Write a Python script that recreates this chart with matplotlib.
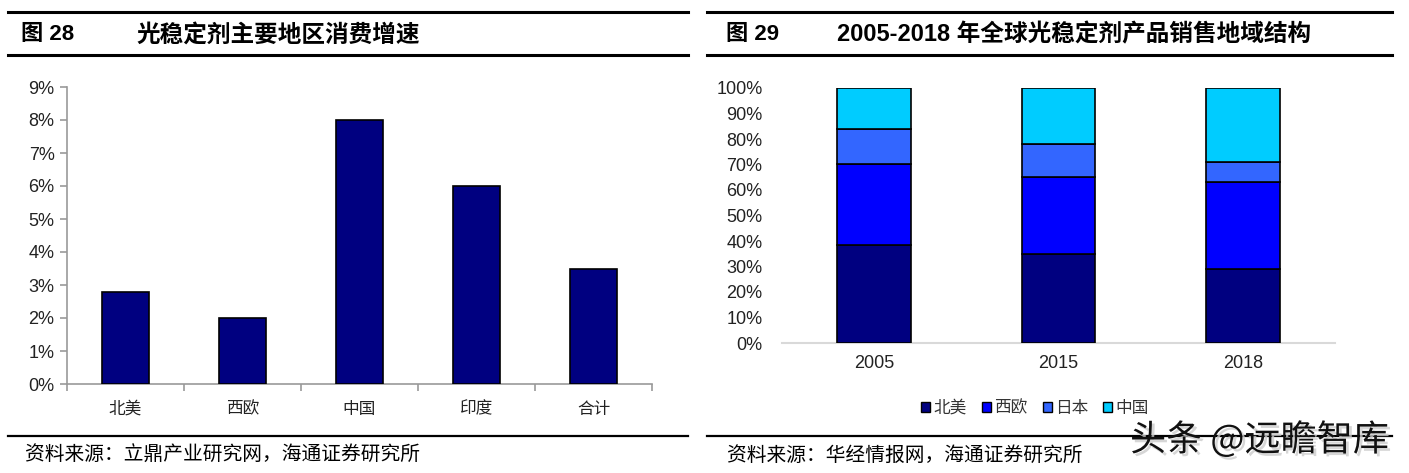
import matplotlib
matplotlib.use("Agg")
import matplotlib.pyplot as plt
import matplotlib.patheffects as pe
from matplotlib.patches import Patch
import numpy as np

plt.rcParams['font.family'] = ['Liberation Sans', 'Noto Sans CJK SC', 'DejaVu Sans']

# ---- data ----
regions = ['北美', '西欧', '中国', '印度', '合计']
growth = [2.8, 2.0, 8.0, 6.0, 3.5]          # %
left_yticks = [0, 1, 2, 3, 4, 5, 6, 7, 8, 9]

years = ['2005', '2015', '2018']
series_names = ['北美', '西欧', '日本', '中国']
na = [38.5, 35.0, 29.0]
we = [31.5, 30.0, 34.0]
jp = [14.0, 13.0, 8.0]
cn = [16.0, 22.0, 29.0]
right_yticks = [0, 10, 20, 30, 40, 50, 60, 70, 80, 90, 100]

W, H = 1409, 473
fig = plt.figure(figsize=(W / 100, H / 100), dpi=100)

def fx(x):
    return x / W

def fy(y):
    return 1 - y / H

cjk = ['Noto Sans CJK SC', 'DejaVu Sans']
title_font = ['Liberation Sans', 'Noto Sans CJK SC']

# ---- header / footer rules ----
for (x0, x1) in [(8, 688), (707, 1392)]:
    for y, lw in [(12, 2.2), (55, 2.2), (436, 1.6)]:
        fig.add_artist(plt.Line2D([fx(x0), fx(x1)], [fy(y), fy(y)], color='black', lw=lw))

fig.text(fx(21), fy(35), '图 28', family=title_font, fontsize=16, fontweight='bold', va='center')
fig.text(fx(136), fy(35), '光稳定剂主要地区消费增速', family=cjk, fontsize=17, fontweight='bold', va='center')
fig.text(fx(726), fy(35), '图 29', family=title_font, fontsize=16, fontweight='bold', va='center')
fig.text(fx(837), fy(35), '2005-2018 年全球光稳定剂产品销售地域结构', family=title_font, fontsize=17,
         fontweight='bold', va='center')

fig.text(fx(25), fy(455), '资料来源：立鼎产业研究网，海通证券研究所', family=cjk, fontsize=14.2, va='center')
fig.text(fx(727), fy(455), '资料来源：华经情报网，海通证券研究所', family=cjk, fontsize=14.2, va='center')

# ---- left chart ----
axL = fig.add_axes([fx(67), fy(384), fx(652) - fx(67), fy(87) - fy(384)])
xl = np.arange(len(regions))
axL.bar(xl, growth, width=0.41, color='#000080', edgecolor='black', linewidth=1.2, zorder=3)
axL.set_xlim(-0.5, len(regions) - 0.5)
axL.set_ylim(0, 9)
axL.set_yticks(left_yticks)
axL.set_yticklabels([f'{v}%' for v in left_yticks], fontsize=13, color='#222222')
axL.set_xticks(xl)
axL.set_xticklabels(regions, family=cjk, fontsize=12, color='#222222')
axL.set_xticks(np.arange(-0.5, len(regions), 1.0), minor=True)
axL.tick_params(axis='x', which='major', length=0, pad=12)
axL.tick_params(axis='x', which='minor', length=5, color='#999999', width=1.2)
axL.tick_params(axis='y', length=5, color='#999999', width=1.2, pad=4)
for s in ['top', 'right']:
    axL.spines[s].set_visible(False)
for s in ['left', 'bottom']:
    axL.spines[s].set_color('#999999')
    axL.spines[s].set_linewidth(1.2)

# ---- right chart ----
axR = fig.add_axes([fx(782), fy(343), fx(1335) - fx(782), fy(88) - fy(343)])
xr = np.arange(len(years))
colors = ['#000080', '#0000FF', '#3366FF', '#00CCFF']
bottom = np.zeros(len(years))
handles = []
for name, vals, c in zip(series_names, [na, we, jp, cn], colors):
    axR.bar(xr, vals, bottom=bottom, width=0.4, color=c, edgecolor='black', linewidth=1.2,
            zorder=3, label=name)
    bottom = bottom + np.array(vals)
    handles.append(Patch(facecolor=c, edgecolor='black', linewidth=1.0, label=name))
axR.set_xlim(-0.5, len(years) - 0.5)
axR.set_ylim(0, 100)
axR.set_yticks(right_yticks)
axR.set_yticklabels([f'{v}%' for v in right_yticks], fontsize=13, color='#222222')
axR.set_xticks(xr)
axR.set_xticklabels(years, fontsize=13, color='#222222')
axR.tick_params(axis='x', length=0, pad=9)
axR.tick_params(axis='y', length=0, pad=14)
for s in ['top', 'right', 'left']:
    axR.spines[s].set_visible(False)
axR.spines['bottom'].set_color('#d9d9d9')
axR.spines['bottom'].set_linewidth(1.5)

leg = fig.legend(handles=handles, loc='center', bbox_to_anchor=(fx(1035), fy(408)), ncol=4,
                 frameon=False, prop={'family': cjk, 'size': 12}, handlelength=0.55,
                 handleheight=0.55, handletextpad=0.2, columnspacing=0.9)
for t in leg.get_texts():
    t.set_color('#333333')

# ---- watermark ----
fig.text(fx(1130), fy(440), '头条 @远瞻智库', family=cjk, fontsize=26, va='center', color='#111111',
         path_effects=[pe.withSimplePatchShadow(offset=(2, -2), shadow_rgbFace='#cccccc', alpha=0.8)])

fig.savefig('out.png', dpi=100)
